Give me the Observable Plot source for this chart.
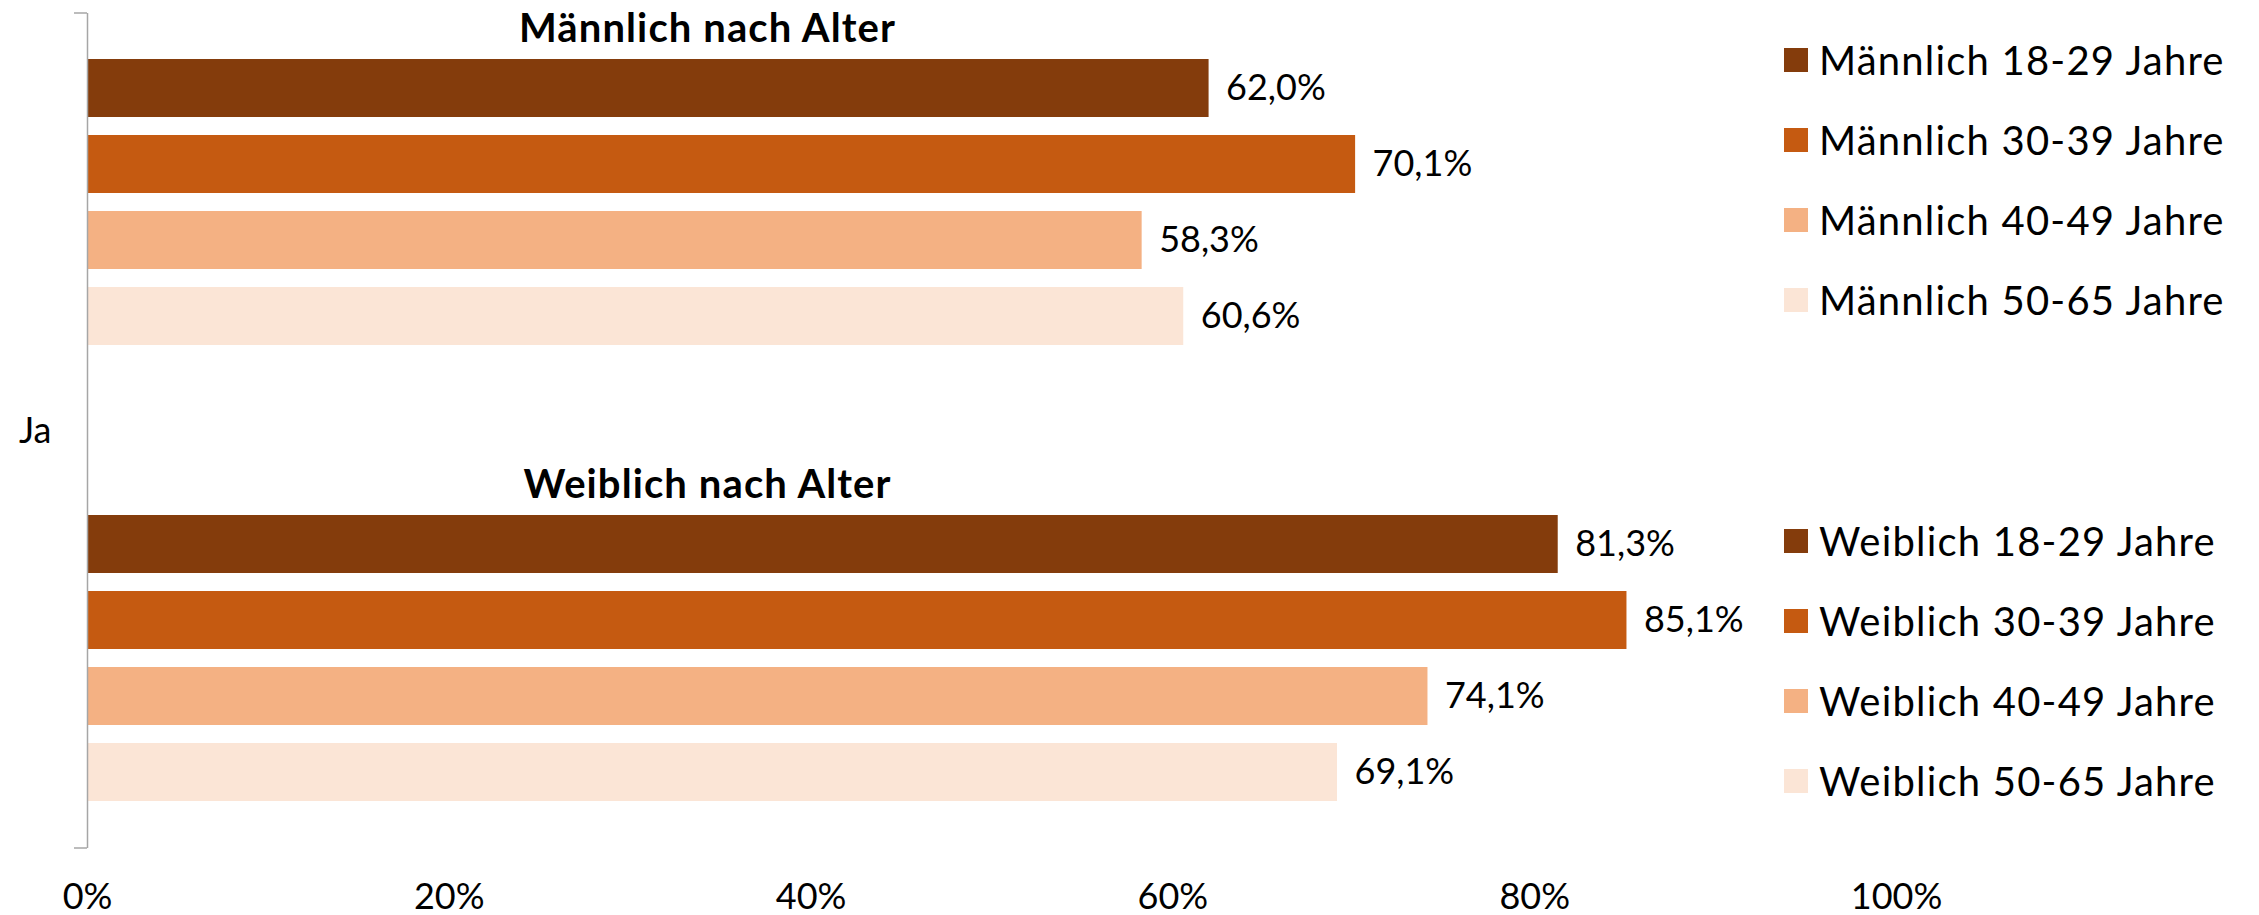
<!DOCTYPE html>
<html>
<head>
<meta charset="utf-8">
<script src="https://cdn.jsdelivr.net/npm/d3@7"></script>
<script src="https://cdn.jsdelivr.net/npm/@observablehq/plot@0.6"></script>
<style>
  body { margin: 0; background: #fff; font-family: Lato, "Noto Sans", sans-serif; }
  #wrap { position: relative; width: 2259px; height: 915px; background: #fff; }
  #legend { position: absolute; left: 1784px; top: 0; }
  .item { position: absolute; left: 0; display: flex; align-items: center; white-space: nowrap;
          font-size: 40px; letter-spacing: 1.2px; line-height: 1; color: #000; font-family: Lato, sans-serif; }
  .sw { width: 24px; height: 24px; margin-right: 11px; flex: none; }
  g[font-weight="bold"] text { letter-spacing: 1.1px; }
</style>
</head>
<body>
<div id="wrap"><div id="legend"></div></div>
<script>
// ---- data ----
const maleSeries = ["Männlich 18-29 Jahre", "Männlich 30-39 Jahre", "Männlich 40-49 Jahre", "Männlich 50-65 Jahre"];
const maleValues = [62.0, 70.1, 58.3, 60.6];
const femaleSeries = ["Weiblich 18-29 Jahre", "Weiblich 30-39 Jahre", "Weiblich 40-49 Jahre", "Weiblich 50-65 Jahre"];
const femaleValues = [81.3, 85.1, 74.1, 69.1];
const groupTitles = ["Männlich nach Alter", "Weiblich nach Alter"];
const categoryLabel = "Ja";
const xTicks = [0, 20, 40, 60, 80, 100];
const ageColors = ["#843C0C", "#C55A11", "#F4B183", "#FBE5D6"];

// ---- build tables ----
const rows = [
  ...maleSeries.map((s, i) => ({series: s, value: maleValues[i], color: ageColors[i]})),
  ...femaleSeries.map((s, i) => ({series: s, value: femaleValues[i], color: ageColors[i]}))
];
const spacers = ["\u2002", "\u2003"];
const yDomain = [...maleSeries, ...spacers, ...femaleSeries];
const titleRows = [
  {title: groupTitles[0], series: maleSeries[0]},
  {title: groupTitles[1], series: femaleSeries[0]}
];
const fmt = v => v.toFixed(1).replace(".", ",") + "%";

const edgeTicks = (index, scales, values, dims) => {
  const g = d3.create("svg:g");
  const x0 = dims.marginLeft;
  const yTop = dims.marginTop;
  const yBot = dims.height - dims.marginBottom;
  g.append("path")
    .attr("d", `M${x0 - 13},${yTop}H${x0}M${x0 - 13},${yBot}H${x0}`)
    .attr("stroke", "#a6a6a6").attr("stroke-width", 1.5).attr("fill", "none");
  return g.node();
};

const chart = Plot.plot({
  width: 2259,
  height: 915,
  marginLeft: 87,
  marginRight: 363,
  marginTop: 13,
  marginBottom: 67,
  style: {fontFamily: "Lato, sans-serif", fontSize: "36px", color: "#000", background: "#fff", overflow: "visible"},
  x: {domain: [0, 100], axis: null, label: null},
  y: {domain: yDomain, paddingInner: 0.233, paddingOuter: 0.574, axis: null, label: null},
  color: {domain: [...maleSeries, ...femaleSeries], range: [...ageColors, ...ageColors]},
  marks: [
    Plot.barX(rows, {x: "value", y: "series", fill: "series"}),
    Plot.text(rows, {x: "value", y: "series", text: d => fmt(d.value), textAnchor: "start", dx: 17, fontSize: 36, fill: "#000"}),
    Plot.text(titleRows, {y: "series", text: "title", frameAnchor: "left", dx: 620, dy: -59, textAnchor: "middle", fontSize: 40, fontWeight: "bold", fill: "#000"}),
    Plot.ruleX([0], {stroke: "#a6a6a6", strokeWidth: 1.5}),
    edgeTicks,
    Plot.text([categoryLabel], {frameAnchor: "left", dx: -36, textAnchor: "end", fontSize: 36, fill: "#000"}),
    Plot.axisX({ticks: xTicks, tickFormat: d => d + "%", tickSize: 0, tickPadding: 35, fontSize: 36, label: null})
  ]
});
document.getElementById("wrap").prepend(chart);

// ---- legend ----
const legend = document.getElementById("legend");
const legendGroups = [{names: maleSeries, top: 60}, {names: femaleSeries, top: 541}];
legendGroups.forEach(g => {
  g.names.forEach((name, i) => {
    const item = document.createElement("div");
    item.className = "item";
    item.style.top = (g.top + i * 80 - 20) + "px";
    const sw = document.createElement("div");
    sw.className = "sw";
    sw.style.background = ageColors[i];
    const t = document.createElement("span");
    t.textContent = name;
    item.append(sw, t);
    legend.append(item);
  });
});
</script>
</body>
</html>
